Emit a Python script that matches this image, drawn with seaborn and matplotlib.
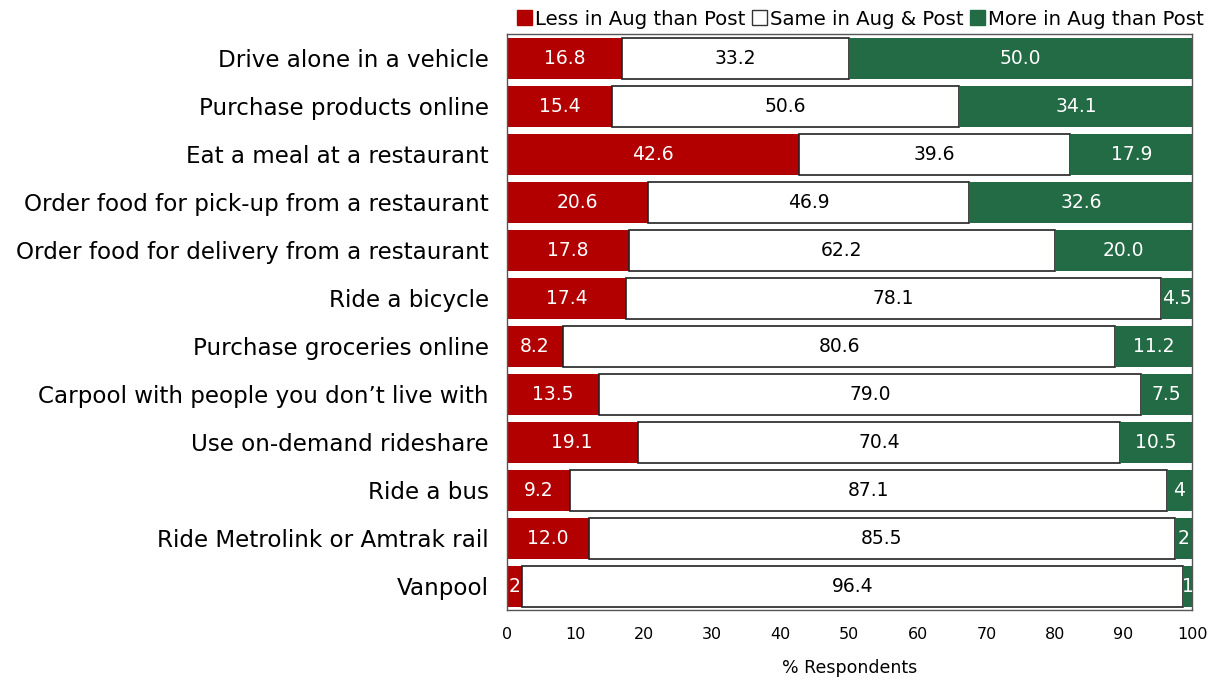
import numpy as np
import pandas as pd
import matplotlib
matplotlib.use('Agg')
import matplotlib.pyplot as plt
import seaborn as sns
from matplotlib.patches import Patch

# data
activities = [
    'Drive alone in a vehicle',
    'Purchase products online',
    'Eat a meal at a restaurant',
    'Order food for pick-up from a restaurant',
    'Order food for delivery from a restaurant',
    'Ride a bicycle',
    'Purchase groceries online',
    'Carpool with people you don\u2019t live with',
    'Use on-demand rideshare',
    'Ride a bus',
    'Ride Metrolink or Amtrak rail',
    'Vanpool',
]
less = [16.8, 15.4, 42.6, 20.6, 17.8, 17.4, 8.2, 13.5, 19.1, 9.2, 12.0, 2.3]
same = [33.2, 50.6, 39.6, 46.9, 62.2, 78.1, 80.6, 79.0, 70.4, 87.1, 85.5, 96.4]
more = [50.0, 34.1, 17.9, 32.6, 20.0, 4.5, 11.2, 7.5, 10.5, 3.7, 2.5, 1.3]
series_names = ['Less in Aug than Post', 'Same in Aug & Post', 'More in Aug than Post']

red = '#B20000'
green = '#236B45'

sns.set_style('white')
plt.rcParams['font.family'] = ['DejaVu Sans']
plt.rcParams['text.color'] = 'black'
plt.rcParams['axes.labelcolor'] = 'black'
plt.rcParams['xtick.color'] = 'black'
plt.rcParams['ytick.color'] = 'black'

fig = plt.figure(figsize=(12.18, 6.82), dpi=100)
ax = fig.add_axes([0.416, 0.105, 0.5627, 0.845])

df = pd.DataFrame({'activity': activities, 'less': less, 'same': same, 'more': more})
df['left_same'] = df['less']
df['left_more'] = df['less'] + df['same']

sns.barplot(data=df, x='less', y='activity', orient='y', color=red, width=0.85,
            saturation=1, ax=ax, linewidth=0)
sns.barplot(data=df, x='same', y='activity', orient='y', color='white', width=0.85,
            saturation=1, ax=ax, left=df['left_same'].values,
            edgecolor='#222222', linewidth=1.2)
sns.barplot(data=df, x='more', y='activity', orient='y', color=green, width=0.85,
            saturation=1, ax=ax, left=df['left_more'].values, linewidth=0)


def fmt(v):
    return f'{v:.1f}' if v >= 4 else f'{round(v)}'


for i, row in df.iterrows():
    ax.text(row['less'] / 2, i, fmt(row['less']), ha='center', va='center',
            color='white', fontsize=13.5)
    ax.text(row['left_same'] + row['same'] / 2, i, fmt(row['same']), ha='center',
            va='center', color='black', fontsize=13.5)
    ax.text(row['left_more'] + row['more'] / 2, i, fmt(row['more']), ha='center',
            va='center', color='white', fontsize=13.5)

ax.set_xlim(0, 100)
ax.set_xticks(range(0, 101, 10))
ax.set_ylim(len(activities) - 0.5, -0.5)
ax.set_xlabel('% Respondents', fontsize=12.5, labelpad=12)
ax.set_ylabel('')
ax.tick_params(axis='x', length=0, labelsize=11.5, pad=12)
ax.tick_params(axis='y', length=0, labelsize=16.6, pad=13)
for s in ax.spines.values():
    s.set_color('#555555')
    s.set_linewidth(1)

handles = [Patch(facecolor=red, edgecolor=red),
           Patch(facecolor='white', edgecolor='#333333'),
           Patch(facecolor=green, edgecolor=green)]
fig.legend(handles, series_names, loc='upper right', bbox_to_anchor=(1.003, 1.012),
           ncol=3, frameon=False, fontsize=14.2, handlelength=0.75, handleheight=0.75,
           handletextpad=0.15, columnspacing=0.35)

fig.savefig('out.png', dpi=100)
